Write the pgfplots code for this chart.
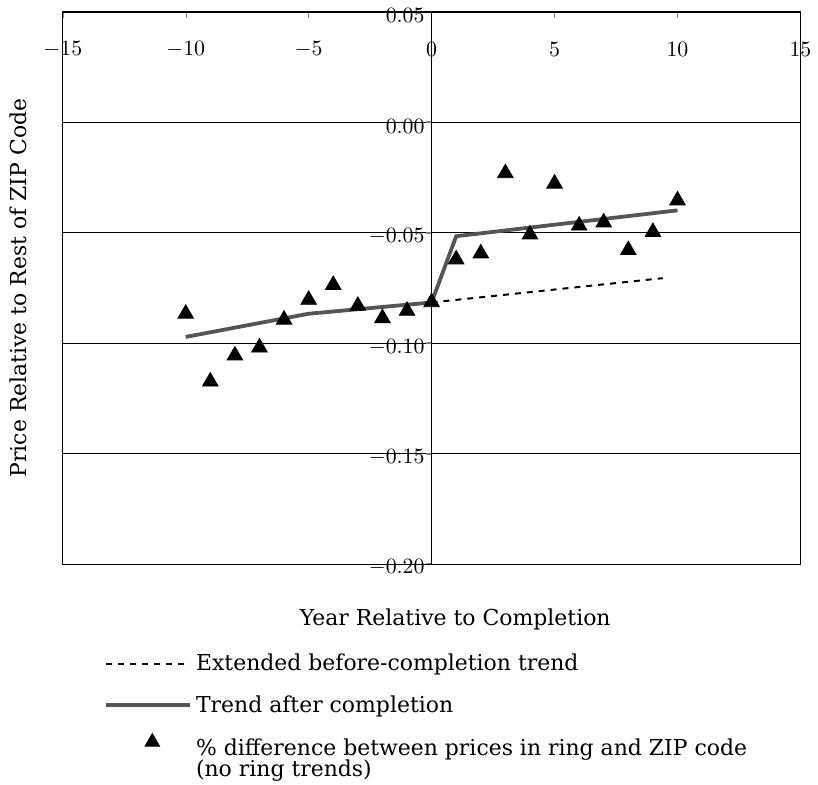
\documentclass[border=0pt]{standalone}
\usepackage{fontspec}
\setmainfont{DejaVu Serif}
\usepackage{pgfplots}
\pgfplotsset{compat=1.18}
\definecolor{trendgray}{RGB}{85,85,85}
\pgfplotsset{
  longline legend/.style={legend image code/.code={\draw[##1] (0pt,0pt) -- (42pt,0pt);}},
  tri legend/.style={legend image code/.code={\draw[mark repeat=2, mark phase=2, ##1, mark size=4.2pt]
    plot coordinates {(0pt,3pt) (23pt,3pt) (46pt,3pt)};}},
}

\begin{document}
\begin{tikzpicture}
\begin{axis}[
  scale only axis,
  width=370pt, height=277pt,
  xmin=-15, xmax=15, ymin=-0.20, ymax=0.05,
  xtick={-15,-10,-5,0,5,10,15},
  ytick={-0.2,-0.15,-0.1,-0.05,0,0.05},
  yticklabels={$-0.20$,$-0.15$,$-0.10$,$-0.05$,$0.00$,$0.05$},
  xtick pos=right, xticklabel pos=right,
  ytick pos=left,
  xticklabel style={anchor=center, yshift=-19pt},
  yticklabel style={xshift=185pt, yshift=-1.8pt},
  major tick length=3pt,
  ytick style={xshift=182pt, line width=1pt},
  ymajorgrids,
  major grid style={black, line width=0.5pt},
  extra x ticks={0}, extra x tick labels={},
  extra x tick style={grid=major, tick style={draw=none}},
  axis line style={line width=0.7pt},
  tick label style={font=\fontsize{11}{13}\selectfont},
  label style={font=\fontsize{11}{13}\selectfont},
  xlabel={Year Relative to Completion},
  ylabel={Price Relative to Rest of ZIP Code},
  xlabel style={at={(axis description cs:0.532,-0.0993)}, anchor=center},
  ylabel style={at={(axis description cs:-0.0608,0.5)}, anchor=center},
  legend style={at={(axis description cs:0.048,-0.147)}, anchor=north west,
    draw=none, fill=none, row sep=7pt,
    font=\fontsize{11}{13}\selectfont},
  legend cell align=left,
]
% extended pre-completion trend
\addplot[black, line width=1pt, dash pattern=on 3pt off 3pt, longline legend]
  coordinates {(0,-0.0815) (9.4,-0.0705)};
\addlegendentry{Extended before-completion trend}
% trend after completion
\addplot[trendgray, line width=1.9pt, longline legend]
  coordinates {(-10,-0.0971) (-5,-0.0866) (0,-0.0815) (1,-0.0515) (10,-0.0398)};
\addlegendentry{Trend after completion}
% ring vs ZIP price differences
\addplot[only marks, mark=triangle*, mark size=4.5pt, black, tri legend]
  coordinates {
    (-10,-0.0866) (-9,-0.1173) (-8,-0.1055) (-7,-0.1019) (-6,-0.0893)
    (-5,-0.0803) (-4,-0.0736) (-3,-0.0830) (-2,-0.0886) (-1,-0.0853)
    (0,-0.0814) (1,-0.0620) (2,-0.0593) (3,-0.0230) (4,-0.0507)
    (5,-0.0277) (6,-0.0467) (7,-0.0453) (8,-0.0578) (9,-0.0496)
    (10,-0.0353)};
\addlegendentry{\begin{tabular}[t]{@{}l@{}}\rule{0pt}{9.5pt}\% difference between prices in ring and ZIP code\\[-2.5pt](no ring trends)\end{tabular}}
\coordinate (bbtl) at (rel axis cs:-0.0851,1.0217);
\coordinate (bbbr) at (rel axis cs:1.0203,-0.3989);
\end{axis}
\path (bbtl) rectangle (bbbr);
\end{tikzpicture}
\end{document}
